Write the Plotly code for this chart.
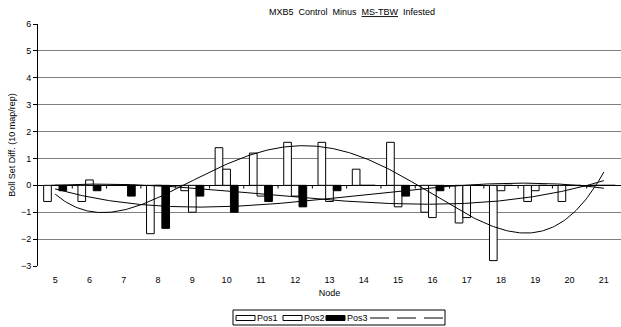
import numpy as np
import plotly.graph_objects as go

nodes = ["5", "6", "7", "8", "9", "10", "11", "12", "13", "14", "15", "16", "17", "18", "19", "20", "21"]
pos1 = [-0.6, -0.6, 0.0, -1.8, -0.2, 1.4, 1.2, 1.6, 1.6, 0.6, 1.6, -1.0, -1.4, -2.8, -0.6, -0.6, 0.0]
pos2 = [0.0, 0.2, 0.0, 0.0, -1.0, 0.6, -0.4, -0.4, -0.6, 0.0, -0.8, -1.2, -1.2, -0.2, -0.2, 0.0, 0.0]
pos3 = [-0.2, -0.2, -0.4, -1.6, -0.4, -1.0, -0.6, -0.8, -0.2, 0.0, -0.4, -0.2, 0.0, 0.0, 0.0, 0.0, 0.0]
series_names = ["Pos1", "Pos2", "Pos3"]
series_fill = ["white", "white", "black"]
trend_orders = [4, 3, 3]

FONT = "Liberation Sans, Arial, sans-serif"
W, H = 621, 327
ML, MR, MT, MB = 38, 0, 24, 61
PW, PH = W - ML - MR, H - MT - MB


def px(x):
    return (x - ML) / PW


def py(y):
    return (H - MB - y) / PH


fig = go.Figure()

for name, vals, fill in zip(series_names, [pos1, pos2, pos3], series_fill):
    fig.add_trace(go.Bar(x=nodes, y=vals, name=name, showlegend=False,
                         marker=dict(color=fill, line=dict(color="black", width=1))))

# polynomial trendlines (as in the original spreadsheet chart)
idx = np.arange(len(nodes))
xs = np.linspace(0, len(nodes) - 1, 300)
for vals, order in zip([pos1, pos2, pos3], trend_orders):
    coef = np.polyfit(idx, vals, order)
    fig.add_trace(go.Scatter(x=xs, y=np.polyval(coef, xs), xaxis="x2", mode="lines",
                             line=dict(color="black", width=1), showlegend=False,
                             hoverinfo="skip"))

shapes = []
annotations = []
# small tick marks on the zero (category) axis line, at category boundaries
for i in range(len(nodes) - 1):
    shapes.append(dict(type="line", xref="x2", yref="y", x0=i + 0.5, x1=i + 0.5,
                       y0=0, y1=-0.12, line=dict(color="black", width=1)))

# legend drawn as in the original (box with wide swatches and three trendline entries)
shapes.append(dict(type="rect", xref="paper", yref="paper", x0=px(233), x1=px(445),
                   y0=py(310), y1=py(325), line=dict(color="black", width=1),
                   fillcolor="white"))
swatch_left = [236, 283, 326]
for left, name, fill in zip(swatch_left, series_names, series_fill):
    shapes.append(dict(type="rect", xref="paper", yref="paper", x0=px(left), x1=px(left + 19),
                       y0=py(315.5), y1=py(320.5), line=dict(color="black", width=1),
                       fillcolor=fill))
    annotations.append(dict(text=name, xref="paper", yref="paper", x=px(left + 19),
                            y=py(318), xanchor="left", yanchor="middle", showarrow=False,
                            font=dict(size=9, family=FONT, color="black")))
for left in [370, 397, 424]:
    shapes.append(dict(type="line", xref="paper", yref="paper", x0=px(left), x1=px(left + 19),
                       y0=py(318), y1=py(318), line=dict(color="black", width=1)))

fig.update_layout(
    width=W, height=H,
    margin=dict(l=ML, r=MR, t=MT, b=MB),
    paper_bgcolor="white", plot_bgcolor="white",
    font=dict(family=FONT, size=9, color="black"),
    barmode="group", bargap=0.33, bargroupgap=0,
    showlegend=False,
    title=dict(text="MXB5  Control  Minus  <u>MS-TBW</u>  Infested", x=px(352), xref="paper",
               xanchor="center", y=1 - 12 / H, yanchor="middle",
               font=dict(size=9, family=FONT)),
    xaxis=dict(type="category", categoryorder="array", categoryarray=nodes,
               showgrid=False, showline=False, ticks="outside", ticklen=5,
               tickcolor="rgba(0,0,0,0)", zeroline=False,
               title=dict(text="Node", standoff=5, font=dict(size=9)), tickfont=dict(size=9)),
    xaxis2=dict(overlaying="x", range=[-0.5, len(nodes) - 0.5], visible=False),
    yaxis=dict(range=[-3, 6], dtick=1, showgrid=True, gridcolor="#808080", gridwidth=1,
               zeroline=True, zerolinecolor="black", zerolinewidth=1,
               showline=True, linecolor="black", linewidth=1, ticks="outside", ticklen=4,
               tickcolor="black",
               title=dict(text="Boll Set Diff. (10 map/rep)", standoff=3, font=dict(size=9)),
               tickfont=dict(size=9)),
    shapes=shapes,
    annotations=annotations,
)

fig.write_html("out.html")
